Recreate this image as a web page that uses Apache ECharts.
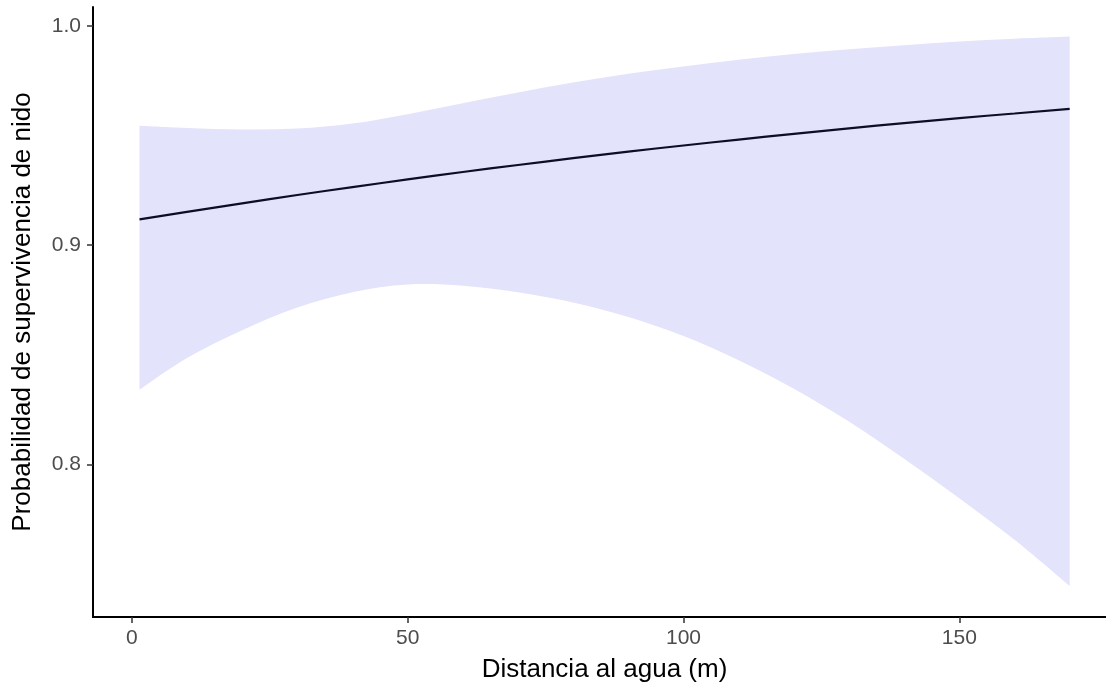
<!DOCTYPE html>
<html>
<head>
<meta charset="utf-8">
<script src="https://cdn.jsdelivr.net/npm/echarts@6/dist/echarts.min.js"></script>
<style>
html,body{margin:0;padding:0;background:#fff;}
#chart{width:1106px;height:687px;}
</style>
</head>
<body>
<div id="chart"></div>
<script>
const distance = [1.4, 10, 20, 30, 40, 50, 60, 70, 80, 90, 100, 110, 120, 130, 140, 150, 160, 170];
const fit      = [0.9118, 0.9152, 0.9191, 0.9229, 0.9265, 0.9300, 0.9334, 0.9366, 0.9397, 0.9427, 0.9455, 0.9482, 0.9508, 0.9533, 0.9557, 0.9580, 0.9601, 0.9622];
const upper    = [0.9545, 0.9535, 0.9528, 0.9532, 0.9555, 0.9598, 0.9648, 0.9697, 0.9742, 0.9782, 0.9816, 0.9846, 0.9872, 0.9894, 0.9913, 0.9929, 0.9942, 0.9952];
const lower    = [0.834, 0.8485, 0.8612, 0.8715, 0.8785, 0.8820, 0.8815, 0.8785, 0.8738, 0.8672, 0.8585, 0.8475, 0.8345, 0.8195, 0.8025, 0.7845, 0.7655, 0.7445];
const xTicks = [0, 50, 100, 150];
const yTicks = [0.8, 0.9, 1.0];
const xTitle = 'Distancia al agua (m)';
const yTitle = 'Probabilidad de supervivencia de nido';

const fitData = distance.map((d, i) => [d, fit[i]]);

// Catmull-Rom style cubic segments through screen points (drawing only)
function curveSegments(pts) {
  let s = '';
  for (let i = 0; i < pts.length - 1; i++) {
    const p0 = pts[Math.max(i - 1, 0)], p1 = pts[i], p2 = pts[i + 1], p3 = pts[Math.min(i + 2, pts.length - 1)];
    const c1 = [p1[0] + (p2[0] - p0[0]) / 6, p1[1] + (p2[1] - p0[1]) / 6];
    const c2 = [p2[0] - (p3[0] - p1[0]) / 6, p2[1] - (p3[1] - p1[1]) / 6];
    s += ' C' + c1[0] + ',' + c1[1] + ' ' + c2[0] + ',' + c2[1] + ' ' + p2[0] + ',' + p2[1];
  }
  return s;
}

const font = 'Liberation Sans, Arial, sans-serif';
const chart = echarts.init(document.getElementById('chart'), null, {renderer: 'canvas'});
chart.setOption({
  animation: false,
  backgroundColor: '#ffffff',
  grid: {left: 93, top: 7, height: 610, width: 1023, containLabel: false, outerBoundsMode: 'none'},
  xAxis: {
    type: 'value', min: -7.03, max: 178.4, z: 10,
    name: xTitle, nameLocation: 'middle', nameGap: 40,
    nameTextStyle: {color: '#000', fontSize: 26, fontFamily: font},
    axisLine: {show: true, onZero: false, lineStyle: {color: '#000', width: 2}},
    axisTick: {show: true, length: 6, customValues: xTicks, lineStyle: {color: '#333', width: 1.5}},
    axisLabel: {customValues: xTicks, color: '#4d4d4d', fontSize: 21, fontFamily: font, margin: 11},
    splitLine: {show: false}
  },
  yAxis: {
    type: 'value', min: 0.7303, max: 1.0087, z: 10,
    name: yTitle, nameLocation: 'middle', nameGap: 57, nameRotate: 90,
    nameTextStyle: {color: '#000', fontSize: 26, fontFamily: font},
    axisLine: {show: true, onZero: false, lineStyle: {color: '#000', width: 2}},
    axisTick: {show: true, length: 6, customValues: yTicks, lineStyle: {color: '#333', width: 1.5}},
    axisLabel: {customValues: yTicks, color: '#4d4d4d', fontSize: 21, fontFamily: font, margin: 12,
      formatter: v => v.toFixed(1)},
    splitLine: {show: false}
  },
  series: [
    {
      type: 'custom',
      data: [0],
      silent: true,
      z: 1,
      renderItem: function (params, api) {
        const top = distance.map((d, i) => api.coord([d, upper[i]]));
        const bottom = distance.map((d, i) => api.coord([d, lower[i]])).reverse();
        const path = 'M' + top[0][0] + ',' + top[0][1] + curveSegments(top) +
          ' L' + bottom[0][0] + ',' + bottom[0][1] + curveSegments(bottom) + ' Z';
        return {
          type: 'path',
          shape: {pathData: path},
          style: {fill: '#e3e3fb', stroke: null}
        };
      }
    },
    {type: 'line', data: fitData, smooth: true, symbol: 'none', z: 3,
     lineStyle: {color: '#0d0d26', width: 2.2}}
  ]
});
</script>
</body>
</html>
